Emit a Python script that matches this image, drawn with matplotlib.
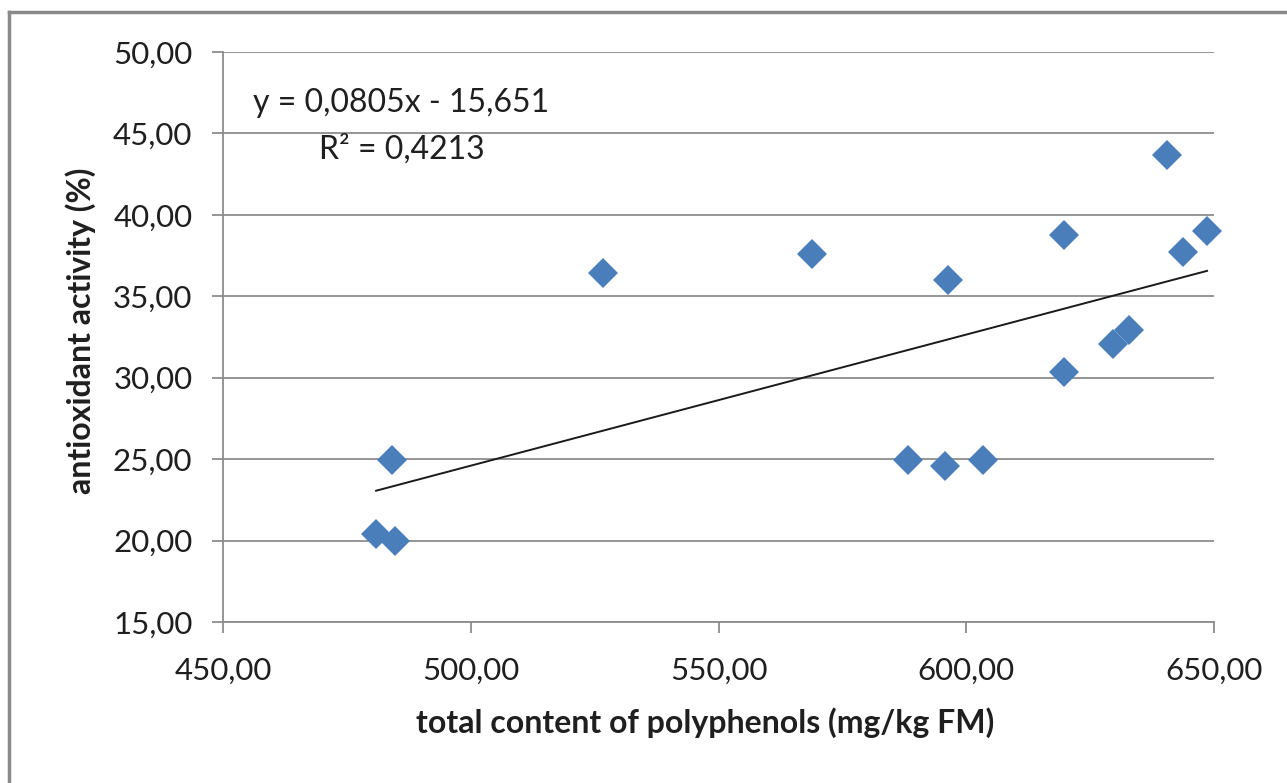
"""
Scatter of antioxidant activity vs total polyphenol content with linear trend.
Output: out.png
"""
import numpy as np
import matplotlib
matplotlib.use("Agg")
import matplotlib.pyplot as plt
from matplotlib.lines import Line2D
from matplotlib.ticker import FuncFormatter

# ── Data ──────────────────────────────────────────────────────────────────────
polyphenols = [480.9, 484.8, 484.1, 526.6, 568.8, 596.3, 588.3, 595.7,
               603.4, 619.7, 619.7, 629.7, 632.9, 640.6, 643.7, 648.6]
activity    = [20.4, 20.0, 24.95, 36.46, 37.6, 36.0, 24.95, 24.6,
               24.95, 38.78, 30.33, 32.05, 32.9, 43.66, 37.69, 39.0]

slope, intercept = 0.0805, -15.651
eq_text = "y = 0,0805x - 15,651"
r2_text = "R² = 0,4213"

x_ticks = [450, 500, 550, 600, 650]
y_ticks = [15, 20, 25, 30, 35, 40, 45, 50]

# ── Style ─────────────────────────────────────────────────────────────────────
BLUE  = "#4A7EBB"
GRIDC = "#8C8C8C"
TEXT  = "#1f1f1f"

plt.rcParams["font.family"] = ["Lato", "DejaVu Sans"]

W, H = 1287, 783
fig = plt.figure(figsize=(W / 100, H / 100), dpi=100)
ax = fig.add_axes([223 / W, 1 - 622 / H, (1214 - 223) / W, (622 - 52) / H])

ax.set_xlim(450, 650)
ax.set_ylim(15, 50)
ax.set_xticks(x_ticks)
ax.set_yticks(y_ticks)
fmt = FuncFormatter(lambda v, _: f"{v:.2f}".replace(".", ","))
ax.xaxis.set_major_formatter(fmt)
ax.yaxis.set_major_formatter(fmt)

ax.yaxis.grid(True, color=GRIDC, linewidth=1.3)
ax.set_axisbelow(True)
for s in ["top", "right"]:
    ax.spines[s].set_visible(False)
for s in ["left", "bottom"]:
    ax.spines[s].set_color(GRIDC)
    ax.spines[s].set_linewidth(1.3)

ax.tick_params(axis="both", direction="out", length=8, width=1.3,
               color=GRIDC, labelsize=22.5, labelcolor=TEXT)
ax.tick_params(axis="y", pad=14)
ax.tick_params(axis="x", pad=17)

# points
ax.plot(polyphenols, activity, "D", color=BLUE, markersize=15.5,
        markeredgewidth=0, zorder=3, clip_on=False)

# trend line over data range
xs = np.array([min(polyphenols), max(polyphenols)])
ax.plot(xs, slope * xs + intercept, color="#1a1a1a", linewidth=1.4, zorder=4)

ax.text(0.18, 0.91, eq_text, transform=ax.transAxes, fontsize=23,
        color=TEXT, ha="center", va="center")
ax.text(0.18, 0.83, r2_text, transform=ax.transAxes, fontsize=23,
        color=TEXT, ha="center", va="center")

ax.set_xlabel("total content of polyphenols (mg/kg FM)", fontsize=23,
              fontweight="bold", color=TEXT)
ax.set_ylabel("antioxidant activity (%)", fontsize=23,
              fontweight="bold", color=TEXT)
ax.xaxis.set_label_coords(0.486, -0.177)
ax.yaxis.set_label_coords(-0.144, 0.51)
ax.xaxis.label.set_va("center")
ax.yaxis.label.set_va("center")

# chart-area frame (only top and left edges are visible in the crop)
fig.add_artist(Line2D([9 / W, 1], [1 - 12 / H, 1 - 12 / H],
                      transform=fig.transFigure, color="#8A8A8A", linewidth=2.5))
fig.add_artist(Line2D([9 / W, 9 / W], [0, 1 - 12 / H],
                      transform=fig.transFigure, color="#8A8A8A", linewidth=2.5))

fig.savefig("out.png", dpi=100, facecolor="white")
